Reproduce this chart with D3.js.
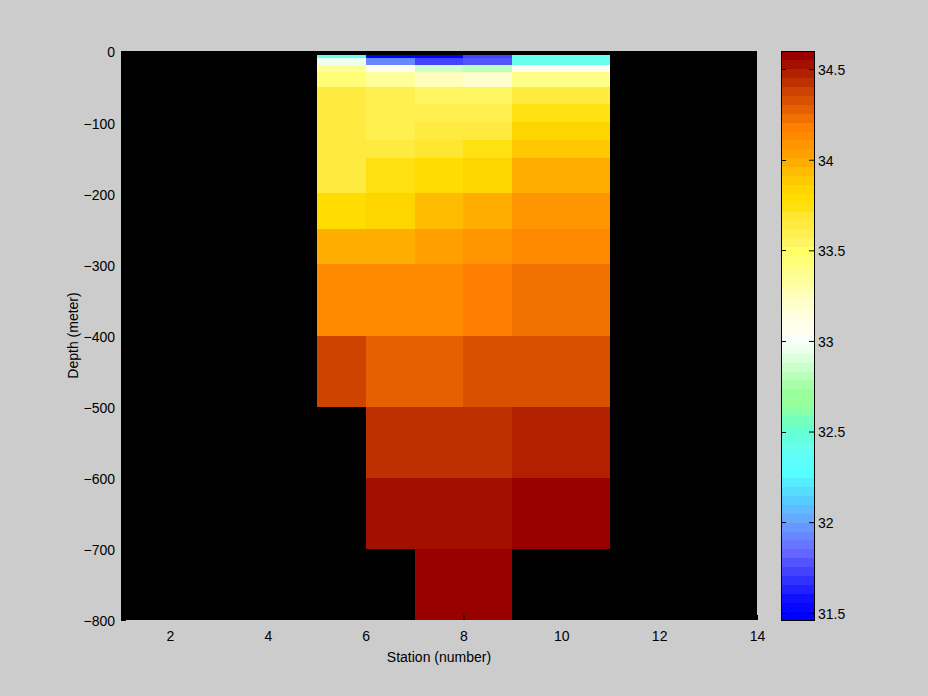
<!DOCTYPE html>
<html><head><meta charset="utf-8">
<script src="https://cdn.jsdelivr.net/npm/d3@7"></script>
<style>
body{margin:0;background:#cccccc;}
svg{display:block;}
text{font-family:"Liberation Sans",Arial,Helvetica,sans-serif;}
</style>
</head><body>
<svg id="chart" width="928" height="696"></svg>
<script>
// Station grid edges (pcolor: each cell spans from one edge to the next)
const stationEdges = [5, 6, 7, 8, 9, 11];
// Depth grid edges (meter)
const depthEdges = [-6, -10, -20, -30, -50, -75, -100, -125, -150, -200, -250, -300, -400, -500, -600, -700, -800];
// Salinity per cell, rows follow depth intervals, columns follow stations 5,6,7,8,9
const salinity = [
  [32.419, 31.488, 31.488, 31.733, 32.419],
  [32.958, 31.929, 31.733, 31.782, 32.419],
  [33.350, 33.056, 32.860, 32.811, 33.056],
  [33.448, 33.350, 33.252, 33.203, 33.399],
  [33.644, 33.595, 33.546, 33.546, 33.644],
  [33.644, 33.595, 33.595, 33.595, 33.742],
  [33.644, 33.595, 33.644, 33.644, 33.840],
  [33.644, 33.644, 33.693, 33.742, 33.889],
  [33.644, 33.742, 33.791, 33.840, 33.987],
  [33.791, 33.840, 33.938, 33.987, 34.085],
  [33.987, 33.987, 34.036, 34.085, 34.134],
  [34.134, 34.134, 34.134, 34.183, 34.232],
  [34.379, 34.281, 34.281, 34.330, 34.330],
  [null,   34.428, 34.428, 34.428, 34.477],
  [null,   34.526, 34.526, 34.526, 34.575],
  [null,   null,   34.575, 34.575, null  ]
];
const xTicks = [2, 4, 6, 8, 10, 12, 14];
const yTicks = [0, -100, -200, -300, -400, -500, -600, -700, -800];
const cbTicks = [31.5, 32, 32.5, 33, 33.5, 34, 34.5];
const cLimits = [31.46, 34.60];
const xLimits = [1, 14];
const yLimits = [-800, 0];
const xLabel = "Station (number)";
const yLabel = "Depth (meter)";
// colormap anchors (at colour-band centres)
const cmapValues = [31.488, 31.537, 31.586, 31.635, 31.684, 31.733, 31.782, 31.831, 31.880, 31.929, 31.978, 32.027, 32.076, 32.125, 32.174, 32.223, 32.272, 32.370, 32.419, 32.468, 32.517, 32.566, 32.615, 32.664, 32.713, 32.762, 32.811, 32.860, 32.909, 32.958, 33.007, 33.056, 33.105, 33.154, 33.203, 33.252, 33.301, 33.350, 33.399, 33.448, 33.497, 33.546, 33.595, 33.644, 33.693, 33.742, 33.791, 33.840, 33.889, 33.938, 33.987, 34.036, 34.085, 34.134, 34.183, 34.232, 34.281, 34.330, 34.379, 34.428, 34.477, 34.526, 34.575];
const cmapColors = ["#0000ff", "#0808ff", "#1111ff", "#2222ff", "#3333ff", "#4444ff", "#5555ff", "#6666ff", "#6677ff", "#6688ff", "#6699ff", "#66aaff", "#5fbbff", "#55ccff", "#55ddff", "#55eeff", "#55ffff", "#5ffff8", "#66ffee", "#66ffdd", "#66ffcc", "#77ffbb", "#88ffaa", "#99ff99", "#99ff99", "#aaffaa", "#bbffbb", "#ccffcc", "#ddffdd", "#eeffee", "#f8fff8", "#fffff0", "#ffffe8", "#ffffdd", "#ffffcc", "#ffffbb", "#ffffaa", "#ffff99", "#ffff88", "#ffff77", "#ffff66", "#fff560", "#fff050", "#ffea40", "#ffe630", "#ffe010", "#ffdd00", "#ffd500", "#ffc800", "#ffbb00", "#ffae00", "#ffa000", "#ff9500", "#ff8a00", "#ff8000", "#f07000", "#e56000", "#d85000", "#cc4400", "#bf3000", "#b32000", "#a31000", "#990000"];
const nLevels = 64;

const svg = d3.select("#chart");
const W = 928, H = 696;
const plot = {left: 121, right: 757, top: 51, bottom: 620};
const cb = {left: 781, right: 814, top: 51, bottom: 620};

svg.append("rect").attr("width", W).attr("height", H).attr("fill", "#cccccc");

const x = d3.scaleLinear().domain(xLimits).range([plot.left, plot.right]);
const y = d3.scaleLinear().domain(yLimits).range([plot.bottom, plot.top]);

const cont = d3.scaleLinear().domain(cmapValues).range(cmapColors).interpolate(d3.interpolateRgb).clamp(true);
const step = (cLimits[1] - cLimits[0]) / nLevels;
const levelColors = d3.range(nLevels).map(i => cont(cLimits[0] + (i + 0.5) * step));
const color = d3.scaleQuantize().domain(cLimits).range(levelColors);

// axes background
svg.append("rect")
  .attr("x", plot.left).attr("y", plot.top)
  .attr("width", plot.right - plot.left).attr("height", plot.bottom - plot.top)
  .attr("fill", "#000000");

// cells
const cells = [];
salinity.forEach((row, i) => {
  row.forEach((v, j) => {
    if (v === null) return;
    cells.push({x0: stationEdges[j], x1: stationEdges[j + 1], y0: depthEdges[i], y1: depthEdges[i + 1], v});
  });
});
svg.append("g").selectAll("rect").data(cells).join("rect")
  .attr("x", d => x(d.x0))
  .attr("y", d => y(d.y0))
  .attr("width", d => x(d.x1) - x(d.x0))
  .attr("height", d => y(d.y1) - y(d.y0))
  .attr("fill", d => color(d.v))
  .attr("shape-rendering", "crispEdges");

// x axis
const gx = svg.append("g").attr("transform", `translate(0,${plot.bottom})`)
  .call(d3.axisBottom(x).tickValues(xTicks).tickSize(-5).tickPadding(11).tickFormat(d3.format("d")));
gx.select(".domain").remove();
gx.selectAll(".tick line").attr("stroke", "#000");
gx.selectAll("text").attr("font-size", 14).attr("fill", "#000")
  .style("font-family", '"Liberation Sans",Arial,sans-serif');

// y axis
const gy = svg.append("g").attr("transform", `translate(${plot.left},0)`)
  .call(d3.axisLeft(y).tickValues(yTicks).tickSize(-5).tickPadding(6).tickFormat(d3.format("d")));
gy.select(".domain").remove();
gy.selectAll(".tick line").attr("stroke", "#000");
gy.selectAll("text").attr("font-size", 14).attr("fill", "#000").attr("dy", "0.42em")
  .style("font-family", '"Liberation Sans",Arial,sans-serif');

// axis titles
svg.append("text")
  .attr("x", (plot.left + plot.right) / 2).attr("y", 662)
  .attr("text-anchor", "middle").attr("font-size", 14).attr("fill", "#000")
  .text(xLabel);
svg.append("text")
  .attr("transform", `translate(78,${(plot.top + plot.bottom) / 2}) rotate(-90)`)
  .attr("text-anchor", "middle").attr("font-size", 14).attr("fill", "#000")
  .text(yLabel);

// colorbar
const cy = d3.scaleLinear().domain(cLimits).range([cb.bottom, cb.top]);
const cbg = svg.append("g");
cbg.selectAll("rect").data(d3.range(nLevels)).join("rect")
  .attr("x", cb.left)
  .attr("y", i => cy(cLimits[0] + (i + 1) * step))
  .attr("width", cb.right - cb.left)
  .attr("height", i => cy(cLimits[0] + i * step) - cy(cLimits[0] + (i + 1) * step) + 0.5)
  .attr("fill", i => levelColors[i])
  .attr("shape-rendering", "crispEdges");
cbg.append("rect")
  .attr("x", cb.left + 0.5).attr("y", cb.top + 0.5)
  .attr("width", cb.right - cb.left).attr("height", cb.bottom - cb.top)
  .attr("fill", "none").attr("stroke", "#000").attr("stroke-width", 1);

// colorbar ticks: right side with labels, plus left side marks
const gcb = svg.append("g").attr("transform", `translate(${cb.right},0)`)
  .call(d3.axisRight(cy).tickValues(cbTicks).tickSize(-5).tickPadding(4).tickFormat(d => String(d)));
gcb.select(".domain").remove();
gcb.selectAll(".tick line").attr("stroke", "#000");
gcb.selectAll("text").attr("font-size", 14).attr("fill", "#000").attr("dy", "0.38em")
  .style("font-family", '"Liberation Sans",Arial,sans-serif');
svg.append("g").selectAll("line").data(cbTicks).join("line")
  .attr("x1", cb.left).attr("x2", cb.left + 5)
  .attr("y1", d => Math.round(cy(d)) + 0.5).attr("y2", d => Math.round(cy(d)) + 0.5)
  .attr("stroke", "#000");
</script>
</body></html>
